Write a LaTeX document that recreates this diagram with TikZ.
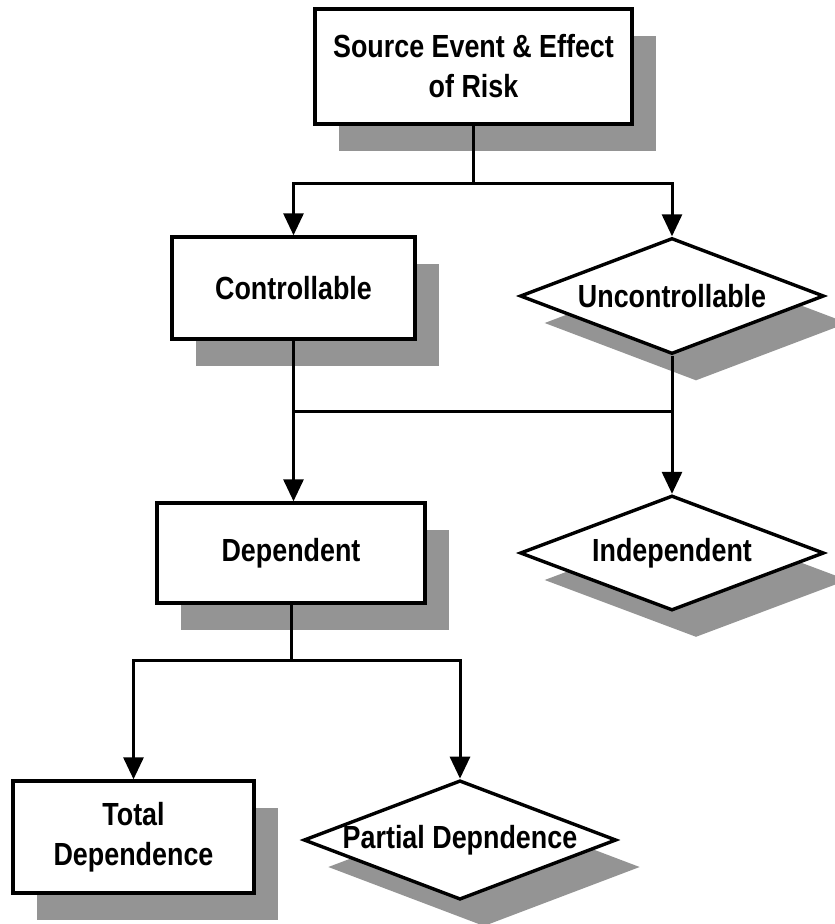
\documentclass[tikz,border=0pt]{standalone}
\usepackage{fontspec}
\setmainfont{Liberation Sans}[FakeStretch=0.84]
\usetikzlibrary{shapes.geometric,shadows,arrows.meta}
\begin{document}
\begin{tikzpicture}[x=1pt,y=-1pt,
  every node/.style={font=\fontsize{32}{40}\selectfont\bfseries, align=center, inner sep=0pt},
  castshadow/.style={drop shadow={shadow xshift=24pt, shadow yshift=-27pt, fill=black!42, opacity=1}},
  boxnode/.style={rectangle, draw, line width=3.4pt, fill=white, castshadow},
  decision/.style={diamond, aspect=2.62, draw, line width=3.4pt, fill=white, castshadow},
  link/.style={line width=3pt},
  flow/.style={link, -{Triangle[length=22pt,width=20pt]}}
]
\useasboundingbox (0,0) rectangle (835,924);
\clip (0,0) rectangle (835,924);

% blocks
\node[boxnode, minimum width=317pt, minimum height=115pt] (src) at (473.5,66.5) {Source Event \& Effect\\of Risk};
\node[boxnode, minimum width=243pt, minimum height=102pt] (ctrl) at (293.5,288) {Controllable};
\node[decision, minimum width=304pt, minimum height=116pt] (unc) at (672,296) {Uncontrollable};
\node[boxnode, minimum width=268pt, minimum height=100pt] (dep) at (291,553) {Dependent};
\node[decision, minimum width=304pt, minimum height=115pt] (ind) at (672,553) {Independent};
\node[boxnode, minimum width=241pt, minimum height=112pt] (tot) at (133.5,837) {Total\\Dependence};
\node[decision, minimum width=310pt, minimum height=115pt] (par) at (460,840) {Partial Depndence};

% branch levels
\coordinate (lvA) at (0,183);
\coordinate (lvB) at (0,411);
\coordinate (lvC) at (0,660);

% first split
\draw[link] (src.south) -- (src.south |- lvA);
\draw[flow] (src.south |- lvA) -| (ctrl.north);
\draw[flow] (src.south |- lvA) -| (unc.north);

% merge between the two outcomes
\draw[flow] (ctrl.south) -- (ctrl.south |- dep.north);
\draw[flow] (unc.south) -- (ind.north);
\draw[link] (ctrl.south |- lvB) -- (unc.south |- lvB);

% second split
\draw[link] (dep.south) -- (dep.south |- lvC);
\draw[flow] (dep.south |- lvC) -| (tot.north);
\draw[flow] (dep.south |- lvC) -| (par.north);
\end{tikzpicture}
\end{document}
